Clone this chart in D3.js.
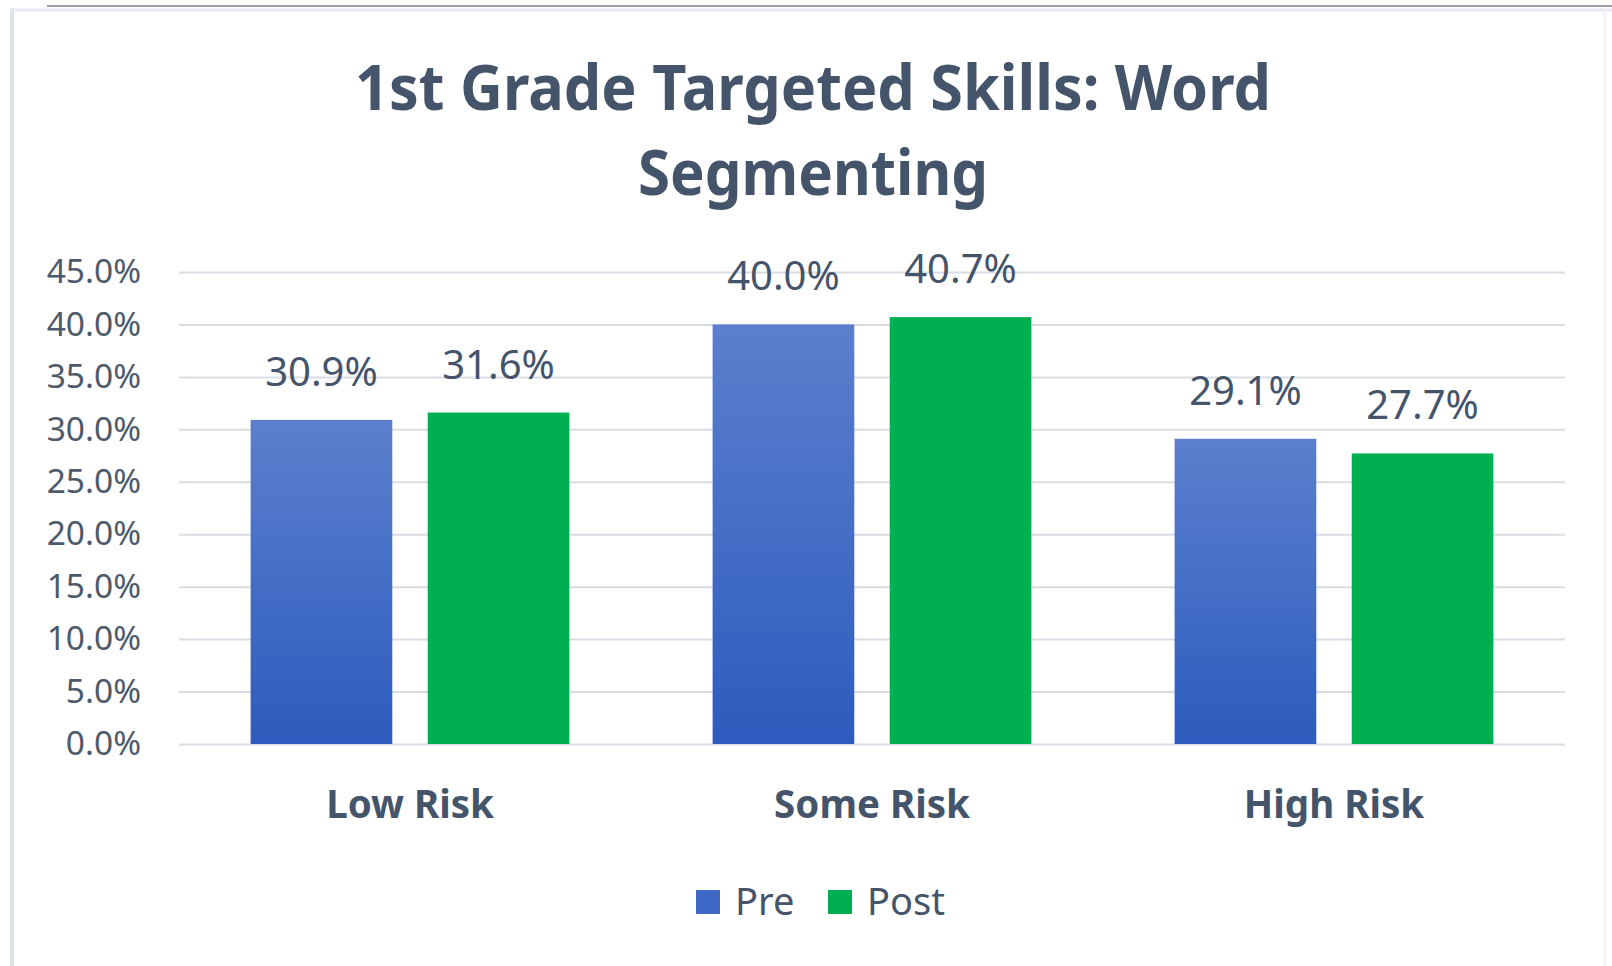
<!DOCTYPE html>
<html>
<head>
<meta charset="utf-8">
<script src="https://cdn.jsdelivr.net/npm/d3@7"></script>
<style>
  body { margin: 0; background: #fff; }
  svg { display: block; font-family: "Noto Sans", sans-serif; }
  .axis .domain { display: none; }
  .axis line { stroke: #d9dde3; stroke-width: 2; }
  .axis text { fill: #4d5a6b; font-size: 33.5px; font-family: "Noto Sans", sans-serif; }
</style>
</head>
<body>
<div id="chart"></div>
<script>
var categories = ["Low Risk", "Some Risk", "High Risk"];
var seriesNames = ["Pre", "Post"];
var preValues = [30.9, 40.0, 29.1];
var postValues = [31.6, 40.7, 27.7];
var yTicks = [0, 5, 10, 15, 20, 25, 30, 35, 40, 45];
var titleLines = ["1st Grade Targeted Skills: Word", "Segmenting"];

var W = 1612, H = 966;
var plot = { left: 179, right: 1565, top: 272, bottom: 744 };

var svg = d3.select("#chart").append("svg")
    .attr("width", W)
    .attr("height", H);

// frame edges of the pasted chart
svg.append("line").attr("x1", 12).attr("x2", 12).attr("y1", 8).attr("y2", H)
    .attr("stroke", "#dde1e8").attr("stroke-width", 4);
svg.append("line").attr("x1", 10).attr("x2", W).attr("y1", 10).attr("y2", 10)
    .attr("stroke", "#e6e9ef").attr("stroke-width", 3);
svg.append("line").attr("x1", 47).attr("x2", W).attr("y1", 6).attr("y2", 6)
    .attr("stroke", "#9aa1ad").attr("stroke-width", 2);
svg.append("line").attr("x1", 1605).attr("x2", 1605).attr("y1", 10).attr("y2", H)
    .attr("stroke", "#f3f5f7").attr("stroke-width", 3);

var defs = svg.append("defs");
var grad = defs.append("linearGradient")
    .attr("id", "preGrad")
    .attr("x1", 0).attr("y1", 0).attr("x2", 0).attr("y2", 1);
grad.append("stop").attr("offset", "0%").attr("stop-color", "#5b7fcd");
grad.append("stop").attr("offset", "100%").attr("stop-color", "#2d5cbe");

var colors = { "Pre": "url(#preGrad)", "Post": "#00b050" };
var legendColors = { "Pre": "#3d68c6", "Post": "#00b050" };

// title
svg.selectAll(".title")
    .data(titleLines)
    .enter()
    .append("text")
    .attr("class", "title")
    .attr("x", 813)
    .attr("y", function(d, i){ return 110 + i * 85 })
    .attr("text-anchor", "middle")
    .attr("textLength", function(d, i){ return i === 0 ? 916 : 350 })
    .attr("lengthAdjust", "spacingAndGlyphs")
    .style("font-size", "62px")
    .style("font-weight", "bold")
    .style("fill", "#44546a")
    .text(function(d){ return d });

var x0 = d3.scaleBand()
    .domain(categories)
    .range([plot.left, plot.right])
    .paddingInner(0.31)
    .paddingOuter(0.155);

var x1 = d3.scaleBand()
    .domain(seriesNames)
    .range([0, x0.bandwidth()])
    .paddingInner(0.2);

var y = d3.scaleLinear()
    .domain([0, 45])
    .range([plot.bottom, plot.top]);

var yAxis = d3.axisLeft(y)
    .tickValues(yTicks)
    .tickSize(-(plot.right - plot.left))
    .tickPadding(38)
    .tickFormat(function(d){ return d.toFixed(1) + "%" });

svg.append("g")
    .attr("class", "axis")
    .attr("transform", "translate(" + plot.left + ",0)")
    .call(yAxis);

var rows = categories.map(function(c, i){
    return { category: c, values: [
        { series: "Pre", value: preValues[i] },
        { series: "Post", value: postValues[i] }
    ] };
});

var groups = svg.selectAll(".group")
    .data(rows)
    .enter()
    .append("g")
    .attr("class", "group")
    .attr("transform", function(d){ return "translate(" + x0(d.category) + ",0)" });

groups.selectAll("rect")
    .data(function(d){ return d.values })
    .enter()
    .append("rect")
    .attr("x", function(d){ return x1(d.series) })
    .attr("y", function(d){ return y(d.value) })
    .attr("width", x1.bandwidth())
    .attr("height", function(d){ return y(0) - y(d.value) })
    .attr("fill", function(d){ return colors[d.series] });

groups.selectAll(".label")
    .data(function(d){ return d.values })
    .enter()
    .append("text")
    .attr("class", "label")
    .attr("x", function(d){ return x1(d.series) + x1.bandwidth() / 2 })
    .attr("y", function(d){ return y(d.value) - 34 })
    .attr("text-anchor", "middle")
    .style("font-size", "40px")
    .style("fill", "#44546a")
    .text(function(d){ return d.value.toFixed(1) + "%" });

// category labels
svg.selectAll(".cat")
    .data(categories)
    .enter()
    .append("text")
    .attr("class", "cat")
    .attr("x", function(d){ return x0(d) + x0.bandwidth() / 2 })
    .attr("y", 818)
    .attr("text-anchor", "middle")
    .style("font-size", "38.5px")
    .style("font-weight", "bold")
    .style("fill", "#44546a")
    .text(function(d){ return d });

// legend
var legendX = [696, 828];
var legend = svg.selectAll(".legend")
    .data(seriesNames)
    .enter()
    .append("g")
    .attr("class", "legend")
    .attr("transform", function(d, i){ return "translate(" + legendX[i] + ",890)" });

legend.append("rect")
    .attr("width", 24)
    .attr("height", 24)
    .attr("fill", function(d){ return legendColors[d] });

legend.append("text")
    .attr("x", 39)
    .attr("y", 25)
    .style("font-size", "38px")
    .style("fill", "#44546a")
    .text(function(d){ return d });
</script>
</body>
</html>
